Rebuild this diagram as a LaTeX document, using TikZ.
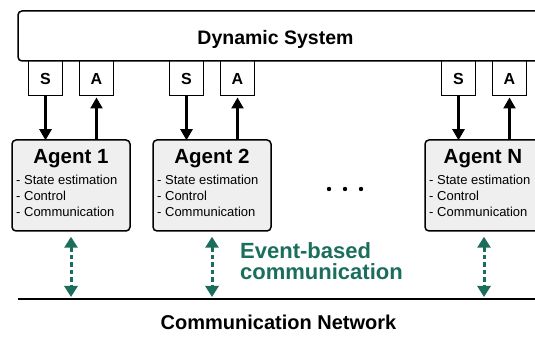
\documentclass[tikz,border=0pt]{standalone}
\usepackage{fontspec}
\setmainfont{Liberation Sans}
\usetikzlibrary{arrows.meta}

\definecolor{evgreen}{HTML}{1B6E5B}
\definecolor{agentgray}{HTML}{EFEFEF}

\newcommand{\boxLineWidth}{1.5}
\newcommand{\ioLineWidth}{1}
\newcommand{\sigLineWidth}{2.3}
\newcommand{\netLineWidth}{2}
\newcommand{\agentY}{185.5}
\newcommand{\agentOneX}{71}
\newcommand{\agentTwoX}{212}
\newcommand{\agentNX}{484}
\newcommand{\ioY}{78.5}
\newcommand{\ioOffset}{25.5}
\newcommand{\titleY}{164}
\newcommand{\listY}{217}
\newcommand{\netY}{299}

\begin{document}
\begin{tikzpicture}[x=1pt, y=-1pt,
    sysbox/.style={draw, line width=\boxLineWidth, rounded corners=4pt, minimum width=527pt, minimum height=50pt},
    iobox/.style={draw, line width=\ioLineWidth, minimum width=34pt, minimum height=35pt, inner sep=0pt, font=\fontsize{16}{17}\selectfont\bfseries},
    agentbox/.style={draw, line width=\boxLineWidth, rounded corners=4pt, fill=agentgray, minimum width=118pt, minimum height=91pt, inner sep=0pt},
    agenttitle/.style={anchor=base, inner sep=0pt, font=\fontsize{20.5}{22}\selectfont\bfseries},
    agentlist/.style={anchor=base west, inner sep=0pt, align=left, font=\fontsize{13}{16}\selectfont},
    sigarrow/.style={-{Triangle[width=12pt,length=11pt]}, line width=\sigLineWidth},
    commarrow/.style={{Triangle[width=13pt,length=11pt]}-{Triangle[width=13pt,length=11pt]}, line width=3pt, evgreen, dash pattern=on 4.5pt off 3pt, shorten <=5pt, shorten >=2pt}]
    \useasboundingbox (0,0) rectangle (535,344);

    % Dynamic system
    \node[sysbox] (sys) at (281.5,36) {};
    \node[anchor=base, inner sep=0pt, font=\fontsize{19.5}{22}\selectfont\bfseries] (systitle) at (275.5,45) {Dynamic System};

    % Sensors and actuators
    \node[iobox] (s1) at (\agentOneX-\ioOffset,\ioY) {S};
    \node[iobox] (act1) at (\agentOneX+\ioOffset,\ioY) {A};
    \node[iobox] (s2) at (\agentTwoX-\ioOffset,\ioY) {S};
    \node[iobox] (act2) at (\agentTwoX+\ioOffset,\ioY) {A};
    \node[iobox] (sN) at (\agentNX-\ioOffset,\ioY) {S};
    \node[iobox] (actN) at (\agentNX+\ioOffset,\ioY) {A};

    % Agents
    \node[agentbox] (a1) at (\agentOneX,\agentY) {};
    \node[agenttitle] (t1) at (\agentOneX,\titleY) {Agent 1};
    \node[agentlist] (l1) at (\agentOneX-55,\listY) {- State estimation\\- Control\\- Communication};

    \node[agentbox] (a2) at (\agentTwoX,\agentY) {};
    \node[agenttitle] (t2) at (\agentTwoX,\titleY) {Agent 2};
    \node[agentlist] (l2) at (\agentTwoX-55,\listY) {- State estimation\\- Control\\- Communication};

    \node[agentbox] (aN) at (\agentNX,\agentY) {};
    \node[agenttitle] (tN) at (\agentNX-1,\titleY) {Agent N};
    \node[agentlist] (lN) at (\agentNX-55,\listY) {- State estimation\\- Control\\- Communication};

    % Dots between agents
    \foreach \dx in {329,345,361}
        \fill (\dx,189) circle (2.2);

    % Measurements down, inputs up
    \draw[sigarrow] (s1.south) -- ([yshift=-1pt]s1.south |- a1.north);
    \draw[sigarrow] (act1.south |- a1.north) -- ([yshift=-1pt]act1.south);
    \draw[sigarrow] (s2.south) -- ([yshift=-1pt]s2.south |- a2.north);
    \draw[sigarrow] (act2.south |- a2.north) -- ([yshift=-1pt]act2.south);
    \draw[sigarrow] (sN.south) -- ([yshift=-1pt]sN.south |- aN.north);
    \draw[sigarrow] (actN.south |- aN.north) -- ([yshift=-1pt]actN.south);

    % Communication network
    \coordinate (netl) at (18,\netY);
    \coordinate (netr) at (545,\netY);
    \draw[line width=\netLineWidth] (netl) -- (netr);
    \node[anchor=base, inner sep=0pt, font=\fontsize{20}{22}\selectfont\bfseries] (nettitle) at (278.5,330) {Communication Network};

    % Event-based links
    \draw[commarrow] (a1.south) -- (a1.south |- netl);
    \draw[commarrow] (a2.south) -- (a2.south |- netl);
    \draw[commarrow] (aN.south) -- (aN.south |- netl);
    \node[anchor=base west, inner sep=0pt, align=left, text=evgreen, font=\fontsize{22}{21.5}\selectfont\bfseries] (evtext) at (240,280) {Event-based\\communication};
\end{tikzpicture}
\end{document}
